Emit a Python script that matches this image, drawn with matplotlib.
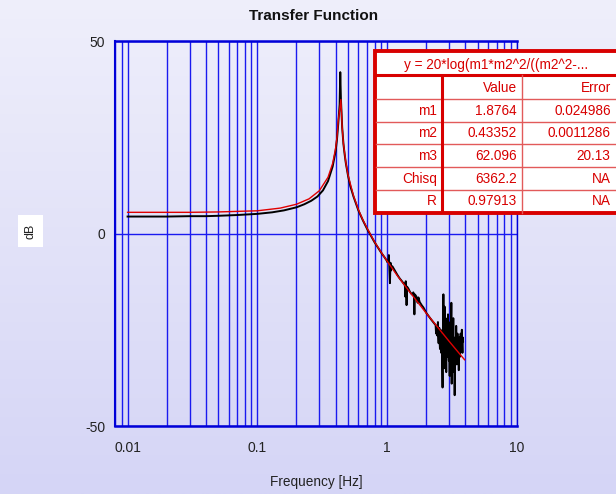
import matplotlib
matplotlib.use('Agg')
import matplotlib.pyplot as plt
import numpy as np
from matplotlib.patches import Rectangle
from matplotlib.colors import LinearSegmentedColormap
from matplotlib.ticker import LogLocator, NullFormatter

plt.rcParams['font.family'] = ['Liberation Sans', 'DejaVu Sans']
plt.rcParams['axes.unicode_minus'] = False

# ---------------- data ----------------
title = 'Transfer Function'
x_label = 'Frequency [Hz]'
y_label = 'dB'
x_ticks = [0.01, 0.1, 1, 10]
x_tick_labels = ['0.01', '0.1', '1', '10']
y_ticks = [-50, 0, 50]

# measured transfer function (black)
f_meas = [0.01, 0.015, 0.02, 0.03, 0.04, 0.05, 0.07, 0.1, 0.13, 0.16, 0.2, 0.23,
          0.26, 0.29, 0.32, 0.35, 0.38, 0.40, 0.41, 0.42, 0.43, 0.435, 0.44, 0.45,
          0.46, 0.47, 0.48, 0.5, 0.52, 0.55, 0.6, 0.65, 0.7, 0.75, 0.8, 0.85, 0.9,
          0.95, 0.99, 1.0, 1.02, 1.03, 1.04, 1.05, 1.06, 1.07, 1.08, 1.1, 1.15, 1.2,
          1.25, 1.3, 1.34, 1.36, 1.37, 1.38, 1.39, 1.40, 1.41, 1.42, 1.45, 1.5,
          1.55, 1.59, 1.61, 1.62, 1.63, 1.65, 1.68, 1.70, 1.72, 1.74, 1.78, 1.85,
          1.9, 2.0, 2.1, 2.2, 2.3, 2.36, 2.38,
          2.40, 2.415, 2.43, 2.445, 2.46, 2.475, 2.49, 2.505, 2.52, 2.535, 2.55, 2.565,
          2.58, 2.595, 2.61, 2.625, 2.64, 2.655, 2.67, 2.68, 2.69, 2.70, 2.71, 2.72,
          2.73, 2.74, 2.75, 2.76, 2.77, 2.785, 2.80, 2.81, 2.82, 2.835, 2.85, 2.865,
          2.88, 2.895, 2.91, 2.925, 2.94, 2.955, 2.97, 2.985, 3.00, 3.015, 3.03, 3.045,
          3.06, 3.075, 3.09, 3.105, 3.12, 3.13, 3.14, 3.155, 3.17, 3.185, 3.20, 3.215,
          3.23, 3.245, 3.26, 3.275, 3.29, 3.30, 3.31, 3.325, 3.34, 3.355, 3.37, 3.385,
          3.40, 3.42, 3.44, 3.46, 3.48, 3.50, 3.52, 3.54, 3.56, 3.58, 3.60, 3.62,
          3.64, 3.66, 3.68, 3.70, 3.72, 3.74, 3.76, 3.78, 3.80, 3.82, 3.84]
db_meas = [4.4, 4.4, 4.4, 4.5, 4.5, 4.6, 4.8, 5.1, 5.5, 6.0, 6.8, 7.6,
           8.5, 9.6, 11.2, 13.6, 17.4, 21.3, 24.3, 28.6, 33.5, 41.9, 35.0, 27.6,
           23.3, 20.6, 18.3, 14.9, 12.3, 9.6, 6.0, 3.4, 1.2, -0.6, -2.3, -3.7, -5.0,
           -6.1, -7.0, -7.4, -7.2, -5.6, -9.0, -12.9, -7.6, -9.6, -8.4, -8.6, -9.7, -10.8,
           -11.7, -12.4, -13.0, -13.0, -13.8, -16.4, -12.4, -14.0, -18.6, -13.8, -14.2, -15.2,
           -15.8, -15.3, -16.0, -21.0, -15.8, -16.0, -16.4, -17.6, -18.0, -16.6, -17.8, -18.7,
           -19.2, -20.6, -21.6, -22.5, -23.3, -23.8, -26.0,
           -24.0, -25.5, -26.5, -24.0, -23.0, -27.0, -28.5, -25.0, -24.5, -28.0, -30.0, -26.0,
           -25.0, -29.0, -31.0, -26.5, -27.0, -33.0, -40.0, -29.0, -33.0, -22.0, -15.8, -28.0,
           -25.0, -31.0, -35.0, -24.0, -19.0, -27.0, -30.0, -25.0, -22.0, -31.0, -36.0, -28.0,
           -24.0, -30.0, -32.0, -26.0, -21.0, -27.0, -29.0, -33.0, -25.0, -30.0, -37.0, -27.0,
           -23.0, -29.0, -31.0, -24.0, -18.0, -30.0, -39.0, -29.0, -26.0, -31.0, -33.0, -27.0,
           -22.0, -30.0, -36.0, -30.0, -28.0, -34.0, -42.0, -31.0, -27.0, -30.0, -33.0, -28.0,
           -24.0, -29.0, -34.0, -28.0, -26.0, -30.0, -31.0, -28.0, -35.5, -30.0, -27.0, -30.0,
           -32.0, -28.0, -26.0, -29.0, -30.0, -27.0, -25.0, -29.0, -31.0, -27.0, -28.0]

# fitted curve (red)
f_fit = [0.01, 0.03, 0.05, 0.1, 0.15, 0.2, 0.25, 0.3, 0.35, 0.38, 0.40, 0.41, 0.42,
         0.44, 0.45, 0.46, 0.48, 0.5, 0.55, 0.6, 0.65, 0.7, 0.8, 0.9, 1.0, 1.2, 1.5,
         2.0, 2.5, 3.0, 3.5, 3.95]
db_fit = [5.5, 5.5, 5.6, 5.9, 6.6, 7.6, 9.0, 11.1, 14.6, 18.2, 22.0, 24.9, 29.4,
          34.8, 27.5, 23.4, 18.4, 15.1, 9.8, 6.2, 3.5, 1.4, -2.2, -4.9, -7.2, -11.0, -15.3,
          -20.7, -24.7, -28.0, -30.7, -32.8]

# fit results table
fit_equation = 'y = 20*log(m1*m2^2/((m2^2-...'
table_header = ['', 'Value', 'Error']
param_names = ['m1', 'm2', 'm3', 'Chisq', 'R']
param_values = ['1.8764', '0.43352', '62.096', '6362.2', '0.97913']
param_errors = ['0.024986', '0.0011286', '20.13', 'NA', 'NA']

# ---------------- figure ----------------
W, H = 616, 494
fig = plt.figure(figsize=(W / 100, H / 100), dpi=100)

bg = fig.add_axes([0, 0, 1, 1], zorder=-10)
grad = np.linspace(0, 1, 256).reshape(-1, 1)
cmap = LinearSegmentedColormap.from_list('bg', ['#EFEFFB', '#D5D5F6'])
bg.imshow(grad, aspect='auto', cmap=cmap, extent=[0, 1, 0, 1], origin='upper')
bg.axis('off')

ax = fig.add_axes([115 / W, 68 / H, 402 / W, 385 / H])
ax.set_facecolor('none')
ax.set_xscale('log')
ax.set_xlim(0.008, 10)
ax.set_ylim(-50, 50)
ax.set_xticks(x_ticks)
ax.set_xticklabels(x_tick_labels)
ax.xaxis.set_minor_locator(LogLocator(base=10, subs=np.arange(2, 10)))
ax.xaxis.set_minor_formatter(NullFormatter())
ax.set_yticks(y_ticks)
ax.tick_params(which='both', length=0, labelsize=10, labelcolor='#222222')
ax.tick_params(axis='x', pad=11)
ax.tick_params(axis='y', pad=7)
grid_col = '#1A1AF0'
ax.grid(True, axis='x', which='both', color=grid_col, lw=1.0)
ax.grid(True, axis='y', which='major', color=grid_col, lw=1.0)
for s in ax.spines.values():
    s.set_color('#0000D8')
ax.spines['top'].set_linewidth(1.8)
ax.spines['bottom'].set_linewidth(1.8)
ax.spines['left'].set_linewidth(1.5)
ax.spines['right'].set_linewidth(1.0)

ax.plot(f_meas, db_meas, color='black', lw=1.4, zorder=3)
ax.plot(f_fit, db_fit, color='#E00000', lw=1.0, zorder=4)

# overlay in pixel coordinates for texts and table
ov = fig.add_axes([0, 0, 1, 1], zorder=5)
ov.set_xlim(0, W)
ov.set_ylim(H, 0)
ov.axis('off')
ov.patch.set_alpha(0)

ov.text(314, 16, title, ha='center', va='center', fontsize=11, fontweight='bold', color='#111111')
ov.text(316, 482, x_label, ha='center', va='center', fontsize=9.8, color='#222222')
ov.add_patch(Rectangle((18, 215), 25, 32, facecolor='white', edgecolor='none'))
ov.text(30.5, 231, y_label, ha='center', va='center', rotation=90, fontsize=9, color='#222222')

red = '#D80000'
light_red = '#E25A5A'
ov.add_patch(Rectangle((375.2, 50.8), 260, 162.5, facecolor='white', edgecolor=red, lw=2.8))
ov.plot([375, 640], [75, 75], color=red, lw=2.2, solid_capstyle='butt')
row_lines = [99.3, 121.7, 144.3, 167.3, 190.0]
for yl in row_lines:
    ov.plot([376, 640], [yl, yl], color=light_red, lw=1.0)
ov.plot([441.7, 441.7], [75, 213], color=red, lw=2.2, solid_capstyle='butt')
ov.plot([521.7, 521.7], [75, 213], color=light_red, lw=1.0)

fs = 9.8
ov.text(496, 64.5, fit_equation, ha='center', va='center', fontsize=fs, color=red)
col_right = [436.7, 516.7, 610.7]
ov.text(col_right[1], 88.3, table_header[1], ha='right', va='center', fontsize=fs, color=red)
ov.text(col_right[2], 88.3, table_header[2], ha='right', va='center', fontsize=fs, color=red)
row_centers = [110.6, 133.0, 155.8, 178.6, 200.8]
for yc, nm, vl, er in zip(row_centers, param_names, param_values, param_errors):
    ov.text(col_right[0], yc, nm, ha='right', va='center', fontsize=fs, color=red)
    ov.text(col_right[1], yc, vl, ha='right', va='center', fontsize=fs, color=red)
    ov.text(col_right[2], yc, er, ha='right', va='center', fontsize=fs, color=red)

fig.savefig('out.png', dpi=100)
